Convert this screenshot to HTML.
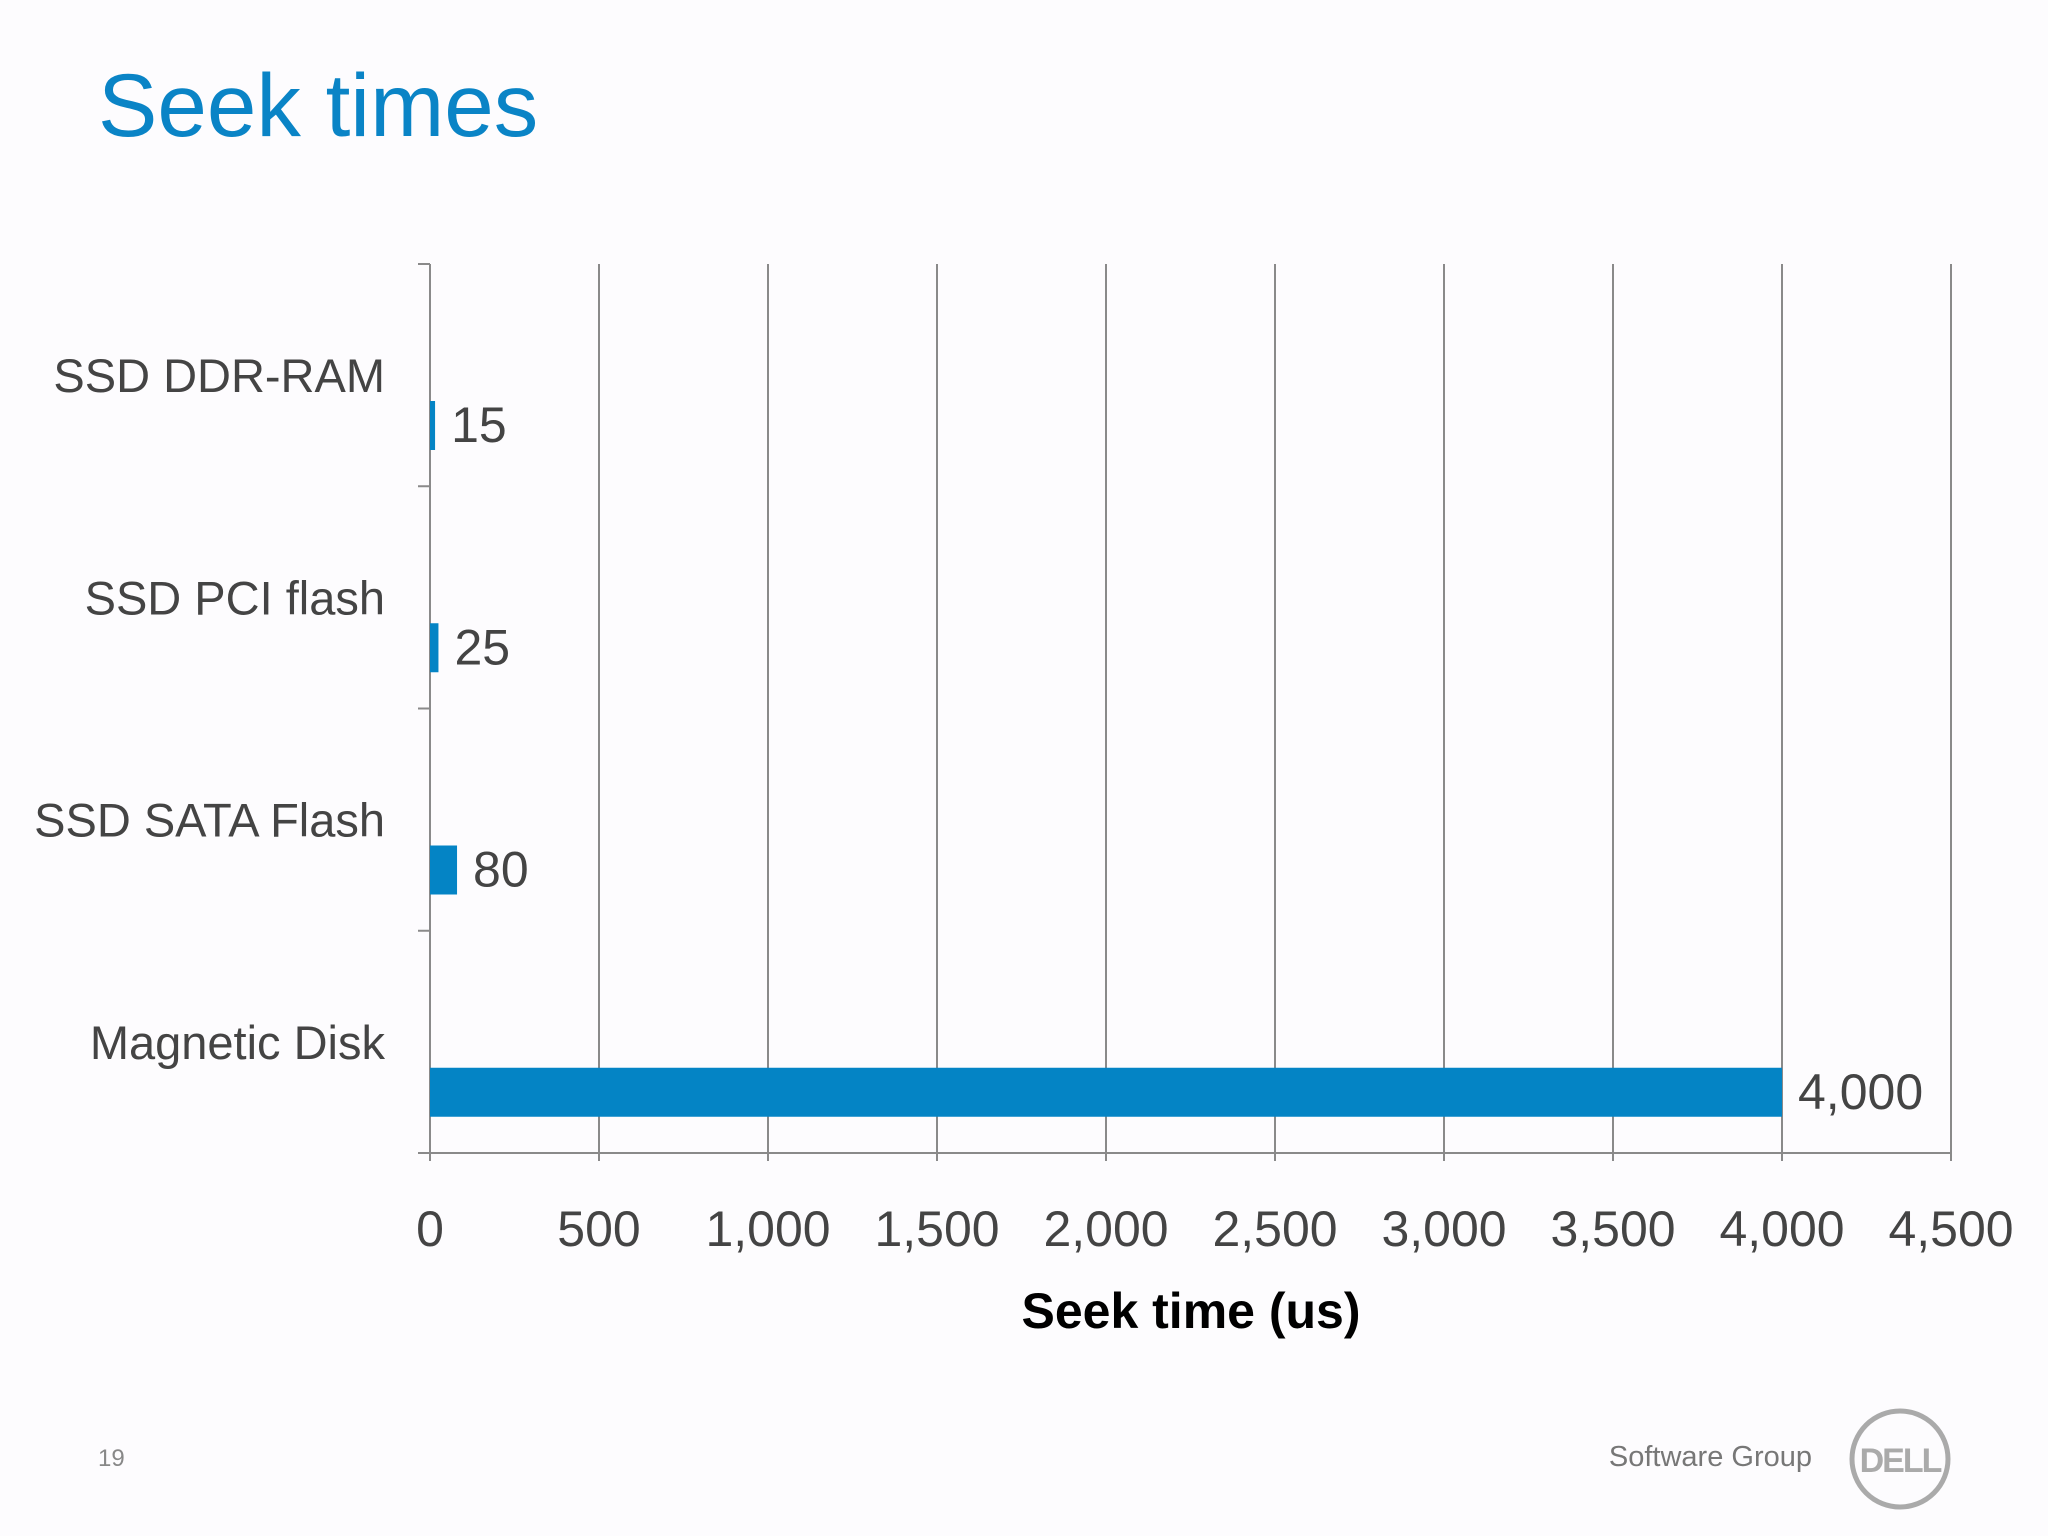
<!DOCTYPE html>
<html><head><meta charset="utf-8"><style>
html,body{margin:0;padding:0;background:#fdfcfe;}
body{width:2048px;height:1536px;position:relative;overflow:hidden;font-family:"Liberation Sans",sans-serif;}
</style></head><body>
<div style="position:absolute;left:98px;top:54px;font-size:89px;color:#0a84c6;">Seek times</div>
<svg id="chart" width="2048" height="1536" style="position:absolute;left:0;top:0"></svg>
<div style="position:absolute;left:98px;top:1445px;font-size:24px;color:#888;">19</div>
<div style="position:absolute;right:236px;top:1441px;font-size:29px;color:#777;">Software Group</div>
<svg width="110" height="110" style="position:absolute;left:1845px;top:1404px">
<circle cx="55" cy="55" r="48" fill="none" stroke="#aaa" stroke-width="5"/>
<text x="55" y="68" text-anchor="middle" font-family="Liberation Sans" font-weight="bold" font-size="34" fill="#aaa" letter-spacing="-2">DELL</text>
</svg>
<script>
const categories=["SSD DDR-RAM","SSD PCI flash","SSD SATA Flash","Magnetic Disk"];
const values=[15,25,80,4000];
const valueLabels=["15","25","80","4,000"];
const ticks=[0,500,1000,1500,2000,2500,3000,3500,4000,4500];
const tickLabels=["0","500","1,000","1,500","2,000","2,500","3,000","3,500","4,000","4,500"];
const NS="http://www.w3.org/2000/svg";
const svg=document.getElementById('chart');
const X0=430,X1=1951,Y0=264,Y1=1153,xMax=4500;
const band=(Y1-Y0)/categories.length;
const x=v=>X0+(v/xMax)*(X1-X0);
function mk(tag,attrs,txt){const e=document.createElementNS(NS,tag);for(const k in attrs)e.setAttribute(k,attrs[k]);if(txt!==undefined)e.textContent=txt;svg.appendChild(e);return e;}
ticks.forEach((t,i)=>{
  const g=mk('line',{x1:x(t),x2:x(t),y1:Y0,y2:Y1+8,stroke:'#8a8a8a','stroke-width':2});
  
  
  const l=mk('text',{x:x(t),y:1246,'text-anchor':'middle','font-size':50,fill:'#444'},tickLabels[i]);
  
  
});
const ax=mk('line',{x1:X0-12,x2:X1,y1:Y1,y2:Y1,stroke:'#8a8a8a','stroke-width':2});


for(let i=0;i<=categories.length;i++){
  const tk=mk('line',{x1:X0-12,x2:X0,y1:Y0+i*band,y2:Y0+i*band,stroke:'#8a8a8a','stroke-width':2});
  
  
}
categories.forEach((c,i)=>{
  const top=Y0+i*band;
  const cl=mk('text',{x:385,y:top+128,'text-anchor':'end','font-size':47,fill:'#444'},c);
  
  
  const bw=Math.max(x(values[i])-X0,4);
  const b=mk('rect',{x:X0,y:top+137,width:bw,height:49,fill:'#0484c5'});
  
  
  const vl=mk('text',{x:X0+bw+16,y:top+178,'font-size':50,fill:'#444'},valueLabels[i]);
  
  
});
const at=mk('text',{x:1191,y:1328,'text-anchor':'middle','font-size':50,'font-weight':'bold',fill:'#000'},'Seek time (us)');


</script>
</body></html>
